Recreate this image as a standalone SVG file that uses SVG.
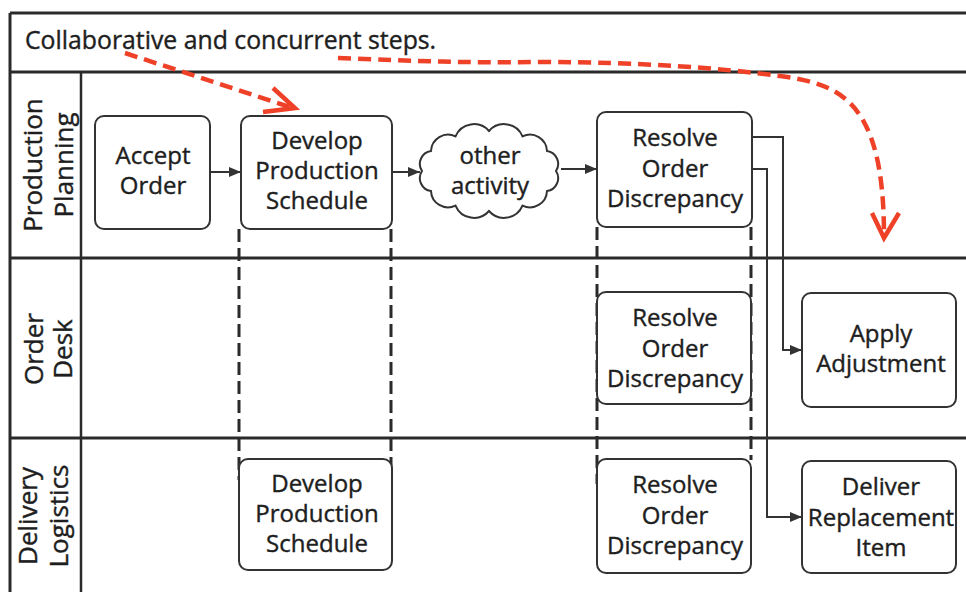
<svg xmlns="http://www.w3.org/2000/svg" width="966" height="592" viewBox="0 0 966 592">
<defs>
<style>
.frame{stroke:#2a2a2a;stroke-width:3;fill:none}
.node{fill:#fff;stroke:#333;stroke-width:2}
.t{font-family:"Open Sans","Liberation Sans",sans-serif;font-size:24px;fill:#1e1e1e;stroke:#1e1e1e;stroke-width:0.4;text-anchor:middle}
.lane{font-family:"Open Sans","Liberation Sans",sans-serif;font-size:26px;fill:#1e1e1e;stroke:#1e1e1e;stroke-width:0.4;text-anchor:middle}
.hdr{font-family:"Open Sans","Liberation Sans",sans-serif;font-size:24.8px;fill:#1e1e1e;stroke:#1e1e1e;stroke-width:0.4}
.conn{fill:none;stroke:#333;stroke-width:2}
.dash{fill:none;stroke:#2a2a2a;stroke-width:3;stroke-dasharray:13 6}
.red{fill:none;stroke:#ee4127;stroke-width:4.5;stroke-dasharray:13 7}
.redhead{fill:none;stroke:#ee4127;stroke-width:4.5;stroke-linejoin:miter}
</style>
<marker id="ah" markerUnits="userSpaceOnUse" markerWidth="12" markerHeight="10" refX="12" refY="5" orient="auto">
<path d="M0,0 L12,5 L0,10 z" fill="#333"/>
</marker>
</defs>
<rect width="966" height="592" fill="#fff"/>
<g id="frame">
<line class="frame" x1="10" y1="13" x2="966" y2="13"/>
<line class="frame" x1="10" y1="13" x2="10" y2="592"/>
<line class="frame" x1="10" y1="72" x2="966" y2="72"/>
<line class="frame" x1="81" y1="72" x2="81" y2="592" style="stroke-width:2.5"/>
<line class="frame" x1="10" y1="258" x2="966" y2="258"/>
<line class="frame" x1="10" y1="438" x2="966" y2="438"/>
<text class="hdr" x="25" y="49">Collaborative and concurrent steps.</text>
</g>
<g id="lanes">
<text class="lane" transform="translate(42,165) rotate(-90)">Production</text>
<text class="lane" transform="translate(73,165) rotate(-90)">Planning</text>
<text class="lane" transform="translate(43,349) rotate(-90)">Order</text>
<text class="lane" transform="translate(72,349) rotate(-90)">Desk</text>
<text class="lane" transform="translate(37,516) rotate(-90)">Delivery</text>
<text class="lane" transform="translate(68,516) rotate(-90)">Logistics</text>
</g>
<g id="groupings">
<line class="dash" x1="239" y1="229" x2="239" y2="480"/>
<line class="dash" x1="391" y1="229" x2="391" y2="480"/>
<line class="dash" x1="597" y1="227" x2="597" y2="484"/>
<line class="dash" x1="751" y1="227" x2="751" y2="460"/>
</g>
<g id="n-accept">
<rect class="node" x="95" y="116" width="115" height="113" rx="9"/>
<text class="t" x="153" y="164">Accept</text>
<text class="t" x="153" y="194">Order</text>
</g>
<g id="n-develop-pp">
<rect class="node" x="241" y="116" width="151" height="113" rx="9"/>
<text class="t" x="317" y="149">Develop</text>
<text class="t" x="317" y="179">Production</text>
<text class="t" x="317" y="209">Schedule</text>
</g>
<g id="n-other">
<path class="node" d="M556,171 A13,13 0 0 1 547,191 A17,17 0 0 1 522.5,205.6 A20,20 0 0 1 489,211 A20,20 0 0 1 455.5,205.6 A17,17 0 0 1 431,191 A13,13 0 0 1 422,171 A13,13 0 0 1 431,151 A17,17 0 0 1 455.5,136.4 A20,20 0 0 1 489,131 A20,20 0 0 1 522.5,136.4 A17,17 0 0 1 547,151 A13,13 0 0 1 556,171 z"/>
<text class="t" x="490" y="164">other</text>
<text class="t" x="490" y="194">activity</text>
</g>
<g id="n-resolve-pp">
<rect class="node" x="597" y="112" width="155" height="115" rx="9"/>
<text class="t" x="675" y="146">Resolve</text>
<text class="t" x="675" y="177">Order</text>
<text class="t" x="675" y="207">Discrepancy</text>
</g>
<g id="n-resolve-od">
<rect class="node" x="597" y="292" width="154" height="112" rx="9"/>
<text class="t" x="675" y="326">Resolve</text>
<text class="t" x="675" y="357">Order</text>
<text class="t" x="675" y="387">Discrepancy</text>
</g>
<g id="n-apply">
<rect class="node" x="802" y="293" width="154" height="114" rx="9"/>
<text class="t" x="881" y="342">Apply</text>
<text class="t" x="881" y="372">Adjustment</text>
</g>
<g id="n-develop-dl">
<rect class="node" x="239" y="459" width="153" height="111" rx="9"/>
<text class="t" x="317" y="492">Develop</text>
<text class="t" x="317" y="522">Production</text>
<text class="t" x="317" y="552">Schedule</text>
</g>
<g id="n-resolve-dl">
<rect class="node" x="597" y="459" width="154" height="114" rx="9"/>
<text class="t" x="675" y="493">Resolve</text>
<text class="t" x="675" y="524">Order</text>
<text class="t" x="675" y="554">Discrepancy</text>
</g>
<g id="n-deliver">
<rect class="node" x="802" y="461" width="154" height="112" rx="9"/>
<text class="t" x="881" y="495">Deliver</text>
<text class="t" x="881" y="526">Replacement</text>
<text class="t" x="881" y="556">Item</text>
</g>
<g id="connectors">
<path class="conn" d="M210,172 L241,172" marker-end="url(#ah)"/>
<path class="conn" d="M392,172 L420,172" marker-end="url(#ah)"/>
<path class="conn" d="M561,169 L597,169" marker-end="url(#ah)"/>
<path class="conn" d="M752,137 H783 V350 H802" marker-end="url(#ah)"/>
<path class="conn" d="M752,169 H767 V517 H802" marker-end="url(#ah)"/>
<path class="red" d="M125,53 L290,107"/>
<polyline class="redhead" points="273,88 295,108 263,112"/>
<path class="red" d="M338,58 C420,61 460,63 540,62 C640,62 720,68 780,76 C840,84 884,100 884,236"/>
<polyline class="redhead" points="872,213 884,238 899,213"/>
</g>
</svg>
